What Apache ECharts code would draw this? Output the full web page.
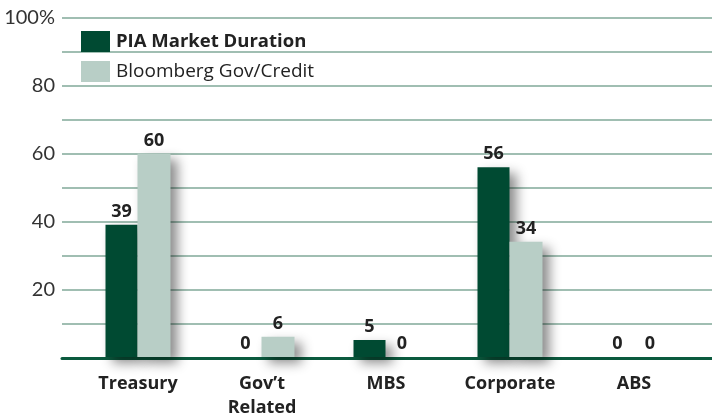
<!DOCTYPE html>
<html>
<head>
<meta charset="utf-8">
<script src="https://cdn.jsdelivr.net/npm/echarts@6/dist/echarts.min.js"></script>
<style>
  html, body { margin: 0; padding: 0; background: #fff; }
  #chart { width: 712px; height: 420px; }
</style>
</head>
<body>
<div id="chart"></div>
<script>
// chart data
const categories = ['Treasury', 'Gov\u2019t\nRelated', 'MBS', 'Corporate', 'ABS']
const piaMarket = [39, 0, 5, 56, 0]
const bloomberg = [60, 6, 0, 34, 0]
const tickLabels = { 20: '20', 40: '40', 60: '60', 80: '80', 100: '100%' }

const darkGreen = '#004a32'
const lightGreen = '#b8cec6'
const gridColor = '#80a999'

const barShadow = {
  shadowBlur: 12,
  shadowOffsetX: 7,
  shadowOffsetY: 6,
  shadowColor: 'rgba(0,0,0,0.45)'
}

const valueLabel = {
  show: true,
  position: 'top',
  distance: 4,
  color: '#222',
  fontFamily: 'Open Sans',
  fontWeight: 'bold',
  fontSize: 18
}

const chart = echarts.init(document.getElementById('chart'))
chart.setOption({
  animation: false,
  legend: {
    orient: 'vertical',
    left: 76,
    top: 26,
    itemWidth: 29,
    itemHeight: 21,
    itemGap: 9,
    icon: 'rect',
    textStyle: { fontFamily: 'Open Sans', fontSize: 19, color: '#222', padding: [0, 0, 0, 1] },
    data: [
      { name: 'PIA Market Duration', textStyle: { fontWeight: 'bold', fontSize: 18.5 } },
      { name: 'Bloomberg Gov/Credit' }
    ]
  },
  grid: [
    { left: 62, right: 0, top: 18, bottom: 62 },
    { left: 76, right: 16, top: 18, bottom: 62 }
  ],
  xAxis: [{
    gridIndex: 0,
    type: 'category',
    data: categories,
    axisLine: { lineStyle: { color: '#0b5a3e', width: 3 } },
    axisTick: { show: false },
    axisLabel: { show: false }
  }, {
    gridIndex: 1,
    type: 'category',
    data: categories,
    axisLine: { show: false },
    axisTick: { show: false },
    axisLabel: {
      margin: 15,
      color: '#222',
      fontFamily: 'Open Sans',
      fontWeight: 'bold',
      fontSize: 18,
      lineHeight: 24
    }
  }],
  yAxis: [{
    gridIndex: 0,
    type: 'value',
    min: 0,
    max: 100,
    interval: 10,
    axisLine: { show: false },
    axisTick: { show: false },
    splitLine: { lineStyle: { color: gridColor, width: 1.5 } },
    axisLabel: {
      margin: 7,
      color: '#333',
      fontFamily: 'Lato',
      fontSize: 20,
      formatter: v => tickLabels[v] || ''
    }
  }, {
    gridIndex: 1,
    type: 'value',
    min: 0,
    max: 100,
    interval: 10,
    show: false,
    splitLine: { show: false }
  }],
  series: [{
    name: 'PIA Market Duration',
    type: 'bar',
    xAxisIndex: 1,
    yAxisIndex: 1,
    barWidth: 32,
    barGap: '0%',
    data: piaMarket,
    itemStyle: Object.assign({ color: darkGreen }, barShadow),
    label: valueLabel
  }, {
    name: 'Bloomberg Gov/Credit',
    type: 'bar',
    xAxisIndex: 1,
    yAxisIndex: 1,
    barWidth: 33,
    barGap: '0%',
    data: bloomberg,
    itemStyle: Object.assign({ color: lightGreen }, barShadow),
    label: valueLabel
  }]
})
</script>
</body>
</html>
